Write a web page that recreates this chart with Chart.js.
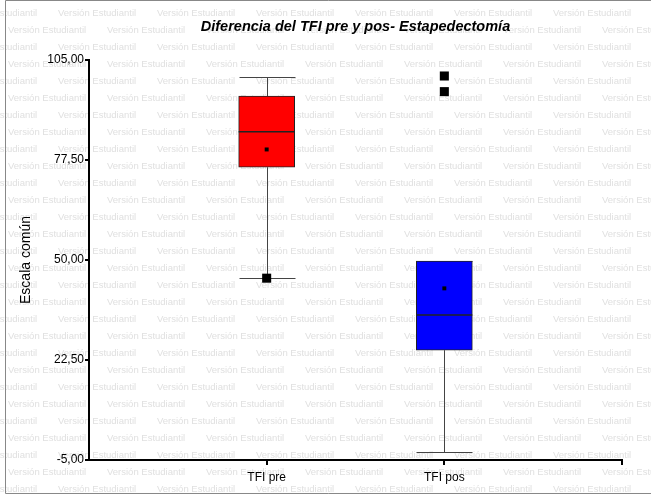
<!DOCTYPE html>
<html>
<head>
<meta charset="utf-8">
<script src="https://cdn.jsdelivr.net/npm/chart.js@4"></script>
<style>
  html, body { margin: 0; padding: 0; background: #fff; }
  #wrap { width: 651px; height: 497px; position: relative; }
</style>
</head>
<body>
<div id="wrap"><canvas id="myChart" width="651" height="497"></canvas></div>
<script>
// datos
const categorias = ['TFI pre', 'TFI pos'];
const posX = [1, 2];
const q1 = [75.5, 25.2];
const q3 = [95.1, 49.7];
const mediana = [85.3, 34.9];
const media = [80.4, 42.2];
const bigoteInf = [45.0, -2.7];
const bigoteSup = [100.3, 49.7];
const atipicosPre = [45.0];
const atipicosPos = [100.6, 96.3];
const ticksY = [-5, 22.5, 50, 77.5, 105];
const ticksX = [1, 2, 3];
const colores = ['#ff0000', '#0000ff'];

const fuente = '"Liberation Sans", Arial, sans-serif';

// marca de agua
const marcaAgua = {
    id: 'marcaAgua',
    beforeDraw(chart) {
        const ctx = chart.ctx;
        ctx.save();
        ctx.fillStyle = '#e0e0e0';
        ctx.font = '9.5px ' + fuente;
        ctx.textBaseline = 'middle';
        let fila = 0;
        for (let y = 13; y < 497; y += 17) {
            let inicio = (fila % 2 == 0) ? 58 : 8;
            for (let x = inicio - 99 * 2; x < 651; x += 99) {
                ctx.fillText('Versión Estudiantil', x, y);
            }
            fila++;
        }
        // marco
        ctx.strokeStyle = '#888';
        ctx.lineWidth = 1;
        ctx.beginPath();
        ctx.moveTo(5.5, 0.5);
        ctx.lineTo(651, 0.5);
        ctx.moveTo(5.5, 0.5);
        ctx.lineTo(5.5, 493.5);
        ctx.lineTo(651, 493.5);
        ctx.stroke();
        ctx.restore();
    }
};

// bigotes, medianas y titulo
const cajas = {
    id: 'cajas',
    beforeDatasetsDraw(chart) {
        const ctx = chart.ctx;
        const xs = chart.scales.x, ys = chart.scales.y;
        const barras = chart.getDatasetMeta(0).data;
        ctx.save();
        ctx.strokeStyle = '#444';
        ctx.lineWidth = 1;
        for (let i = 0; i < posX.length; i++) {
            const cx = Math.round(xs.getPixelForValue(posX[i])) + 0.5;
            const w = barras[i].width / 2;
            const yb = Math.round(ys.getPixelForValue(bigoteInf[i])) + 0.5;
            const ya = Math.round(ys.getPixelForValue(bigoteSup[i])) + 0.5;
            ctx.beginPath();
            ctx.moveTo(cx, yb);
            ctx.lineTo(cx, ys.getPixelForValue(q1[i]));
            ctx.moveTo(cx, ya);
            ctx.lineTo(cx, ys.getPixelForValue(q3[i]));
            ctx.moveTo(cx - w, yb);
            ctx.lineTo(cx + w, yb);
            ctx.moveTo(cx - w, ya);
            ctx.lineTo(cx + w, ya);
            ctx.stroke();
        }
        ctx.restore();
    },
    afterDatasetsDraw(chart) {
        const ctx = chart.ctx;
        const xs = chart.scales.x, ys = chart.scales.y;
        const barras = chart.getDatasetMeta(0).data;
        ctx.save();
        ctx.strokeStyle = '#222';
        ctx.lineWidth = 1.5;
        for (let i = 0; i < posX.length; i++) {
            const cx = xs.getPixelForValue(posX[i]);
            const w = barras[i].width / 2;
            const ym = ys.getPixelForValue(mediana[i]);
            ctx.beginPath();
            ctx.moveTo(cx - w, ym);
            ctx.lineTo(cx + w, ym);
            ctx.stroke();
        }
        // titulo centrado sobre el area del grafico
        const area = chart.chartArea;
        ctx.fillStyle = '#000';
        ctx.font = 'italic bold 14.5px ' + fuente;
        ctx.textAlign = 'center';
        ctx.textBaseline = 'middle';
        ctx.fillText('Diferencia del TFI pre y pos- Estapedectomía', (area.left + area.right) / 2, 27);
        ctx.restore();
    }
};

const datos = {
    datasets: [{
        type: 'bar',
        label: 'cajas',
        data: posX.map((x, i) => ({ x: x, y: [q1[i], q3[i]] })),
        backgroundColor: colores,
        borderColor: '#222',
        borderWidth: 1,
        borderSkipped: false,
        barThickness: 56,
        order: 3
    }, {
        type: 'scatter',
        label: 'media',
        data: posX.map((x, i) => ({ x: x, y: media[i] })),
        pointStyle: 'rect',
        pointRadius: 2.8,
        pointBorderWidth: 0,
        backgroundColor: '#000',
        order: 1
    }, {
        type: 'scatter',
        label: 'atipicos',
        data: atipicosPre.map(v => ({ x: posX[0], y: v })).concat(atipicosPos.map(v => ({ x: posX[1], y: v }))),
        pointStyle: 'rect',
        pointRadius: 6.4,
        pointBorderWidth: 0,
        backgroundColor: '#000',
        order: 1
    }]
};

const config = {
    type: 'bar',
    data: datos,
    plugins: [marcaAgua, cajas],
    options: {
        responsive: false,
        animation: false,
        layout: { padding: { left: 6, right: 29, top: 60, bottom: 4 } },
        plugins: {
            legend: { display: false },
            tooltip: { enabled: false },
            title: { display: false }
        },
        scales: {
            x: {
                type: 'linear',
                min: 0,
                max: 3,
                offset: false,
                afterBuildTicks: (scale) => {
                    scale.ticks = ticksX.map(v => ({ value: v }));
                },
                afterFit: (scale) => { scale.height = 33; },
                border: { color: '#000', width: 2 },
                grid: { drawOnChartArea: false, offset: false, color: '#000', tickLength: 5, lineWidth: 2 },
                ticks: {
                    color: '#000',
                    font: { family: fuente, size: 12 },
                    padding: 5,
                    callback: (v) => categorias[posX.indexOf(v)] || ''
                }
            },
            y: {
                min: -5,
                max: 105,
                afterBuildTicks: (scale) => {
                    scale.ticks = ticksY.map(v => ({ value: v }));
                },
                afterFit: (scale) => { scale.width = 83; },
                border: { color: '#000', width: 2 },
                grid: { drawOnChartArea: false, color: '#000', tickLength: 4, lineWidth: 2 },
                ticks: {
                    color: '#000',
                    font: { family: fuente, size: 12 },
                    padding: 1,
                    callback: (v) => v.toFixed(2).replace('.', ',')
                },
                title: {
                    display: true,
                    text: 'Escala común',
                    color: '#000',
                    font: { family: fuente, size: 14 },
                    padding: { top: 12, bottom: 0 }
                }
            }
        }
    }
};

const myChart = new Chart(document.getElementById('myChart'), config);
</script>
</body>
</html>
